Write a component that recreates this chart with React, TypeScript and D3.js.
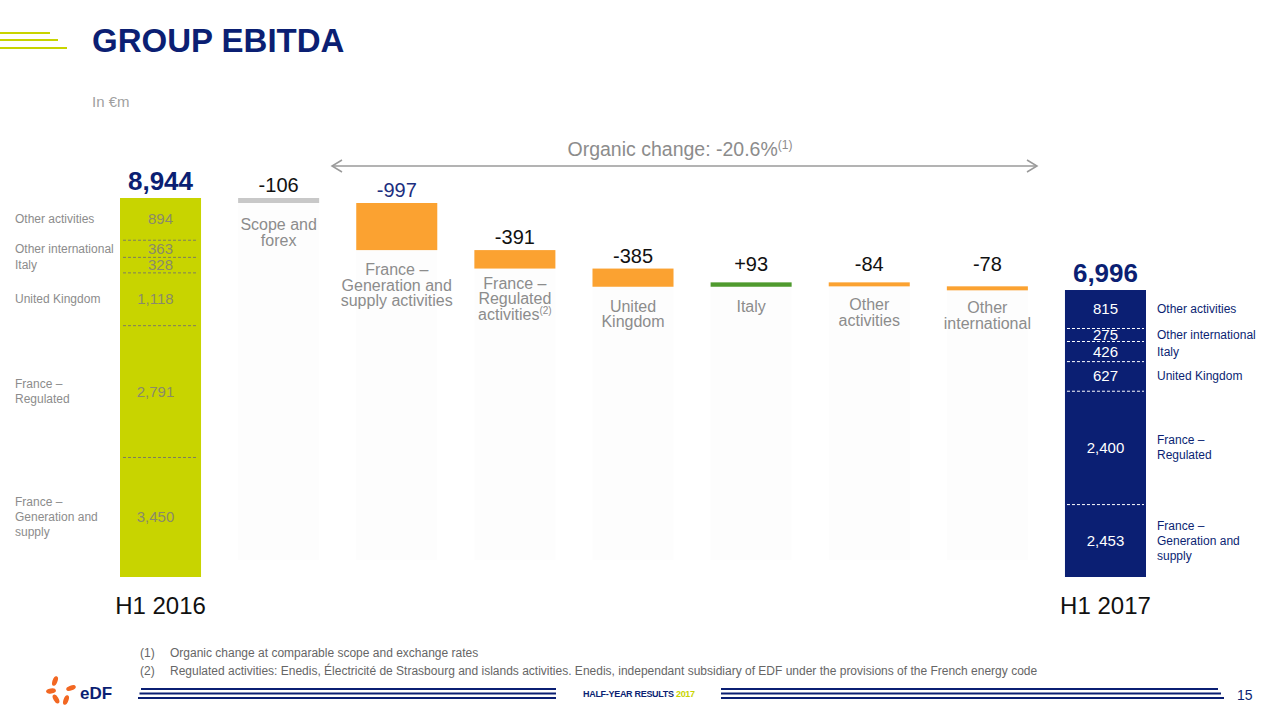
import * as d3 from "d3";

// H1 2016 breakdown (bottom to top)
const segNames = [
  "France – Generation and supply",
  "France – Regulated",
  "United Kingdom",
  "Italy",
  "Other international",
  "Other activities",
];
const h1_2016 = [3450, 2791, 1118, 328, 363, 894];
const h1_2017 = [2453, 2400, 627, 426, 275, 815];

// waterfall steps
const stepLabels = [
  ["Scope and", "forex"],
  ["France –", "Generation and", "supply activities"],
  ["France –", "Regulated", "activities"],
  ["United", "Kingdom"],
  ["Italy"],
  ["Other", "activities"],
  ["Other", "international"],
];
const stepValues = [-106, -997, -391, -385, 93, -84, -78];
const stepText = ["-106", "-997", "-391", "-385", "+93", "-84", "-78"];

const periods = ["H1 2016", "H1 2017"];
const totals = [8944, 6996];
const totalText = ["8,944", "6,996"];

const leftLabelLines = [
  ["France –", "Generation and", "supply"],
  ["France –", "Regulated"],
  ["United Kingdom"],
  ["Italy"],
  ["Other international"],
  ["Other activities"],
];

const NAVY = "#0b1f73";
const LIME = "#c8d400";
const ORANGE = "#fba231";
const GREEN = "#4f9a2e";
const GRAY = "#8c8c8c";
const FONT = "'Liberation Sans', Arial, sans-serif";

export default function App() {
  const W = 1280;
  const H = 720;
  const cats = ["start", ...stepValues.map((_, i) => `s${i}`), "end"];
  const x = d3.scaleBand<string>().domain(cats).range([120, 1146]).paddingInner(0.314).paddingOuter(0);
  const bw = x.bandwidth();
  // broken baseline: chart base starts at ~920
  const y = d3.scaleLinear().domain([920, 8944]).range([577, 198]).clamp(true);
  const fmt = d3.format(",");

  // running totals
  const steps: { y0: number; y1: number; v: number }[] = [];
  let run = totals[0];
  stepValues.forEach((v) => {
    steps.push({ y0: run, y1: run + v, v });
    run += v;
  });

  const stack = (vals: number[]) => {
    let acc = 0;
    return vals.map((v) => {
      const s = { lo: acc, hi: acc + v };
      acc += v;
      return s;
    });
  };
  const seg16 = stack(h1_2016);
  const seg17 = stack(h1_2017);

  const xs = x("start")!;
  const xe = x("end")!;
  const catLabelOffset = [27, 25, 20, 25, 25, 24, 23];

  return (
    <svg width={W} height={H} style={{ display: "block", position: "absolute", left: 0, top: 0, background: "#fff" }} fontFamily={FONT}>
      {/* header */}
      <line x1={0} x2={50} y1={33} y2={33} stroke={LIME} strokeWidth={2} />
      <line x1={0} x2={58} y1={40} y2={40} stroke={LIME} strokeWidth={2} />
      <line x1={0} x2={67} y1={48} y2={48} stroke={LIME} strokeWidth={2} />
      <text x={92} y={52} fontSize={33} fontWeight="bold" fill={NAVY}>GROUP EBITDA</text>
      <text x={92} y={107} fontSize={15} fill="#a0a0a0">In €m</text>

      {/* organic change arrow */}
      <text x={680} y={156} fontSize={19.5} fill={GRAY} textAnchor="middle">
        Organic change: -20.6%<tspan fontSize={12} dy={-7}>(1)</tspan>
      </text>
      <line x1={332} x2={1037} y1={166} y2={166} stroke="#9a9a9a" strokeWidth={1.5} />
      <polyline points="342,160 332,166 342,172" fill="none" stroke="#9a9a9a" strokeWidth={1.5} />
      <polyline points="1027,160 1037,166 1027,172" fill="none" stroke="#9a9a9a" strokeWidth={1.5} />

      {/* faint column backgrounds */}
      {steps.map((s, i) => (
        <rect key={`bg${i}`} x={x(`s${i}`)!} y={y(Math.min(s.y0, s.y1))} width={bw} height={560 - y(Math.min(s.y0, s.y1))} fill="#fdfdfd" />
      ))}

      {/* H1 2016 total bar */}
      <rect x={xs} y={y(totals[0])} width={bw} height={y(0) - y(totals[0])} fill={LIME} />
      {seg16.slice(0, -1).map((s, i) => (
        <line key={`d16${i}`} x1={xs + 3} x2={xs + bw - 3} y1={y(s.hi)} y2={y(s.hi)} stroke="#7d7d60" strokeWidth={1} strokeDasharray="3,2" />
      ))}
      {seg16.map((s, i) => (
        <text key={`v16${i}`} x={xs + bw / 2 - (h1_2016[i] >= 1000 ? 5 : 0)} y={(y(s.lo) + y(s.hi)) / 2 + 5} fontSize={15} fill="#8a8a6a" textAnchor="middle">
          {fmt(h1_2016[i])}
        </text>
      ))}
      {seg16.map((s, i) => {
        const lines = leftLabelLines[i];
        const cy = (y(s.lo) + y(s.hi)) / 2 + 4 - ((lines.length - 1) * 15) / 2;
        return (
          <text key={`l16${i}`} x={15} y={cy} fontSize={12} fill={GRAY}>
            {lines.map((t, j) => (
              <tspan key={j} x={15} dy={j === 0 ? 0 : 15}>{t}</tspan>
            ))}
          </text>
        );
      })}
      <text x={xs + bw / 2} y={y(totals[0]) - 8} fontSize={26} fontWeight="bold" fill={NAVY} textAnchor="middle">{totalText[0]}</text>

      {/* steps */}
      {steps.map((s, i) => {
        const bx = x(`s${i}`)!;
        const top = y(Math.max(s.y0, s.y1));
        const bot = y(Math.min(s.y0, s.y1));
        const color = i === 0 ? "#c8c8c8" : s.v > 0 ? GREEN : ORANGE;
        const lines = stepLabels[i];
        return (
          <g key={`st${i}`}>
            <rect x={bx} y={top} width={bw} height={Math.max(bot - top, 4)} fill={color} />
            <text x={bx + bw / 2} y={Math.min(top - 6, 271)} fontSize={20} fill={i === 1 ? "#1c2f80" : "#111"} textAnchor="middle">
              {stepText[i]}
            </text>
            <text x={bx + bw / 2} y={Math.max(bot, top + 4) + catLabelOffset[i]} fontSize={16} fill={GRAY} textAnchor="middle">
              {lines.map((t, j) => (
                <tspan key={j} x={bx + bw / 2} dy={j === 0 ? 0 : 15.5}>
                  {t}
                  {i === 2 && j === 2 ? <tspan fontSize={10} dy={-6}>(2)</tspan> : null}
                </tspan>
              ))}
            </text>
          </g>
        );
      })}

      {/* H1 2017 total bar */}
      <rect x={xe} y={y(totals[1])} width={bw} height={y(0) - y(totals[1])} fill={NAVY} />
      {seg17.slice(0, -1).map((s, i) => (
        <line key={`d17${i}`} x1={xe + 2} x2={xe + bw - 2} y1={y(s.hi)} y2={y(s.hi)} stroke="#fff" strokeWidth={1} strokeDasharray="3,2" />
      ))}
      {seg17.map((s, i) => (
        <text key={`v17${i}`} x={xe + bw / 2} y={(y(s.lo) + y(s.hi)) / 2 + 5} fontSize={15} fill="#fff" textAnchor="middle">
          {fmt(h1_2017[i])}
        </text>
      ))}
      {seg17.map((s, i) => {
        const lines = leftLabelLines[i];
        const cy = (y(s.lo) + y(s.hi)) / 2 + 4 - ((lines.length - 1) * 15) / 2;
        return (
          <text key={`l17${i}`} x={xe + bw + 11} y={cy} fontSize={12} fill={NAVY}>
            {lines.map((t, j) => (
              <tspan key={j} x={xe + bw + 11} dy={j === 0 ? 0 : 15}>{t}</tspan>
            ))}
          </text>
        );
      })}
      <text x={xe + bw / 2} y={y(totals[1]) - 8} fontSize={26} fontWeight="bold" fill={NAVY} textAnchor="middle">{totalText[1]}</text>

      {/* period labels */}
      <text x={xs + bw / 2} y={614} fontSize={24} fill="#111" textAnchor="middle">{periods[0]}</text>
      <text x={xe + bw / 2} y={614} fontSize={24} fill="#111" textAnchor="middle">{periods[1]}</text>

      {/* footnotes */}
      <g fontSize={12} fill="#666">
        <text x={140} y={657}>(1)</text>
        <text x={170} y={657}>Organic change at comparable scope and exchange rates</text>
        <text x={140} y={675}>(2)</text>
        <text x={170} y={675}>Regulated activities: Enedis, Électricité de Strasbourg and islands activities. Enedis, independant subsidiary of EDF under the provisions of the French energy code</text>
      </g>

      {/* footer */}
      <g fill="#f26722">
        <ellipse cx={55} cy={681} rx={2.5} ry={5} transform="rotate(20 55 681)" />
        <ellipse cx={51} cy={691} rx={5} ry={2.5} transform="rotate(-10 51 691)" />
        <ellipse cx={56} cy={699} rx={2.5} ry={5} transform="rotate(-30 56 699)" />
        <ellipse cx={66} cy={700} rx={2.5} ry={5} transform="rotate(20 66 700)" />
        <ellipse cx={71} cy={688} rx={5} ry={2.5} transform="rotate(-20 71 688)" />
      </g>
      <text x={80} y={699} fontSize={17} fontWeight="bold" fill={NAVY}>eDF</text>
      {[689, 693.5, 698].map((yy, i) => (
        <g key={`fl${i}`}>
          <line x1={141 - i * 1.5} x2={556} y1={yy} y2={yy} stroke={NAVY} strokeWidth={2} />
          <line x1={721} x2={1218 + i * 3} y1={yy} y2={yy} stroke={NAVY} strokeWidth={2} />
        </g>
      ))}
      <text x={583} y={697} fontSize={9} fontWeight="bold" fill={NAVY} letterSpacing={-0.3}>
        HALF-YEAR RESULTS <tspan fill={LIME}>2017</tspan>
      </text>
      <text x={1237} y={700} fontSize={14} fill={NAVY}>15</text>
    </svg>
  );
}
